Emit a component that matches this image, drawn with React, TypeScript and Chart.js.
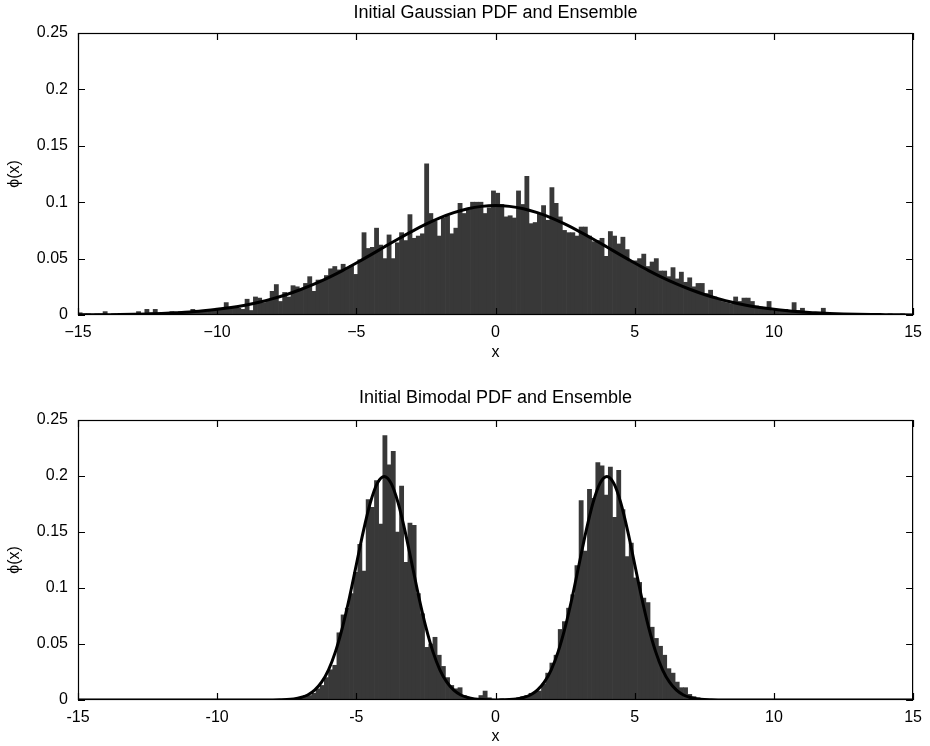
import React, { useEffect, useRef } from "react";
import { Chart, registerables } from "chart.js";

Chart.register(...registerables);

const FONT = '"Liberation Sans", Arial, Helvetica, sans-serif';

// ---------- tick labels ----------
const xTickValues = [-15, -10, -5, 0, 5, 10, 15];
const gaussXTickLabels = ["\u221215", "\u221210", "\u22125", "0", "5", "10", "15"];
const bimodalXTickLabels = ["-15", "-10", "-5", "0", "5", "10", "15"];
const yTickValues = [0, 0.05, 0.1, 0.15, 0.2, 0.25];
const yTickLabels = ["0", "0.05", "0.1", "0.15", "0.2", "0.25"];

// ---------- Gaussian ensemble histogram (bin width 0.15, first centre -14.925) ----------
const gaussHistStart = -14.925;
const gaussHistStep = 0.15;
const gaussianHist = [
  0.002, 0.001, 0.001, 0, 0.001, 0.001, 0.003, 0, 0.001, 0,
  0, 0.001, 0, 0.001, 0.003, 0.001, 0.005, 0.002, 0.005, 0.001,
  0.002, 0.001, 0.003, 0.002, 0.003, 0.002, 0.003, 0.005, 0.003, 0.004,
  0.003, 0.005, 0.004, 0.006, 0.005, 0.011, 0.006, 0.007, 0.006, 0.005,
  0.014, 0.004, 0.016, 0.015, 0.011, 0.013, 0.021, 0.027, 0.012, 0.020,
  0.016, 0.026, 0.025, 0.022, 0.028, 0.034, 0.021, 0.031, 0.031, 0.035,
  0.041, 0.043, 0.040, 0.045, 0.042, 0.044, 0.036, 0.049, 0.073, 0.059,
  0.060, 0.077, 0.062, 0.050, 0.071, 0.050, 0.064, 0.073, 0.066, 0.089,
  0.068, 0.070, 0.072, 0.134, 0.090, 0.083, 0.070, 0.086, 0.088, 0.072,
  0.077, 0.099, 0.090, 0.093, 0.100, 0.100, 0.100, 0.090, 0.095, 0.110,
  0.108, 0.098, 0.087, 0.088, 0.086, 0.110, 0.098, 0.123, 0.081, 0.082,
  0.090, 0.097, 0.084, 0.113, 0.099, 0.087, 0.075, 0.073, 0.073, 0.070,
  0.078, 0.078, 0.070, 0.065, 0.066, 0.068, 0.052, 0.074, 0.070, 0.063,
  0.069, 0.058, 0.047, 0.048, 0.050, 0.054, 0.043, 0.047, 0.050, 0.039,
  0.039, 0.034, 0.042, 0.032, 0.038, 0.029, 0.033, 0.025, 0.028, 0.028,
  0.019, 0.022, 0.016, 0.014, 0.012, 0.011, 0.010, 0.016, 0.012, 0.015,
  0.015, 0.012, 0.008, 0.007, 0.006, 0.012, 0.004, 0.005, 0.004, 0.005,
  0.003, 0.011, 0.004, 0.006, 0.002, 0.002, 0.001, 0.002, 0.006, 0.001,
  0.001, 0.001, 0, 0.001, 0, 0.001, 0, 0.001, 0, 0,
  0, 0.001, 0, 0, 0.001, 0, 0, 0.001, 0, 0,
];

// ---------- Gaussian PDF curve (samples every 0.5 from -15) ----------
const gaussCurveStart = -15;
const gaussCurveStep = 0.5;
const gaussianCurve = [
  0.0001, 0.0002, 0.0003, 0.0004, 0.0006, 0.0009, 0.0013, 0.0019, 0.0026, 0.0037,
  0.0050, 0.0066, 0.0087, 0.0113, 0.0145, 0.0182, 0.0226, 0.0276, 0.0332, 0.0394,
  0.0461, 0.0531, 0.0603, 0.0674, 0.0742, 0.0805, 0.0861, 0.0907, 0.0942, 0.0963,
  0.0970,
  0.0963, 0.0942, 0.0907, 0.0861, 0.0805, 0.0742, 0.0674, 0.0603, 0.0531, 0.0461,
  0.0394, 0.0332, 0.0276, 0.0226, 0.0182, 0.0145, 0.0113, 0.0087, 0.0066, 0.0050,
  0.0037, 0.0026, 0.0019, 0.0013, 0.0009, 0.0006, 0.0004, 0.0003, 0.0002, 0.0001,
];

// ---------- Bimodal ensemble histogram (bin width 0.15, first centre -7.425) ----------
const bimodalHistStart = -7.425;
const bimodalHistStep = 0.15;
const bimodalHist = [
  0, 0.001, 0, 0.002, 0.004, 0.004, 0.006, 0.010, 0.013, 0.020,
  0.027, 0.031, 0.060, 0.076, 0.082, 0.095, 0.114, 0.139, 0.115, 0.179,
  0.172, 0.196, 0.157, 0.236, 0.210, 0.222, 0.150, 0.191, 0.123, 0.158,
  0.156, 0.095, 0.077, 0.047, 0.050, 0.056, 0.040, 0.030, 0.020, 0.013,
  0.010, 0.011, 0.004, 0.002, 0.001, 0, 0.004, 0.008, 0.002, 0,
  0, 0.001, 0, 0.001, 0.001, 0.002, 0.003, 0.004, 0.006, 0.007,
  0.008, 0.014, 0.024, 0.033, 0.040, 0.063, 0.070, 0.082, 0.094, 0.120,
  0.178, 0.133, 0.188, 0.180, 0.212, 0.209, 0.183, 0.208, 0.163, 0.205,
  0.170, 0.128, 0.140, 0.109, 0.105, 0.091, 0.087, 0.065, 0.055, 0.048,
  0.040, 0.028, 0.024, 0.016, 0.011, 0.011, 0.005, 0.003, 0.002, 0.001,
];

// ---------- Bimodal PDF curve (samples every 0.25 from -8 to 8, plus the ends) ----------
const bimodalCurveStart = -8;
const bimodalCurveStep = 0.25;
const bimodalCurve = [
  0.0001, 0.0002, 0.0004, 0.0010, 0.0022, 0.0045, 0.0088, 0.0159, 0.0270, 0.0432,
  0.0648, 0.0913, 0.1210, 0.1506, 0.1760, 0.1934, 0.1995, 0.1934, 0.1760, 0.1506,
  0.1210, 0.0913, 0.0648, 0.0432, 0.0270, 0.0159, 0.0088, 0.0045, 0.0022, 0.0010,
  0.0004, 0.0002, 0.0001,
  0.0002, 0.0004, 0.0010, 0.0022, 0.0045, 0.0088, 0.0159, 0.0270, 0.0432, 0.0648,
  0.0913, 0.1210, 0.1506, 0.1760, 0.1934, 0.1995, 0.1934, 0.1760, 0.1506, 0.1210,
  0.0913, 0.0648, 0.0432, 0.0270, 0.0159, 0.0088, 0.0045, 0.0022, 0.0010, 0.0004,
  0.0002, 0.0001,
];
const bimodalCurveEnds = { left: -15, right: 15, value: 0 };

function toPoints(start: number, step: number, values: number[]) {
  return values.map((v, i) => ({ x: +(start + i * step).toFixed(4), y: v }));
}

// MATLAB-style boxed axes with inward ticks, and a title centred over the plot area
const framePlugin = {
  id: "matlabFrame",
  afterDatasetsDraw(chart: any, _args: any, opts: any) {
    const { ctx, chartArea: a, scales } = chart;
    const xs = scales.x;
    const ys = scales.y;
    const tl = 7;
    ctx.save();
    ctx.strokeStyle = "#000";
    ctx.lineWidth = 1.2;
    ctx.strokeRect(a.left + 0.5, a.top + 0.5, a.right - a.left - 1, a.bottom - a.top - 1);
    ctx.beginPath();
    xTickValues.forEach((v) => {
      const px = Math.round(xs.getPixelForValue(v)) + 0.5;
      ctx.moveTo(px, a.bottom);
      ctx.lineTo(px, a.bottom - tl);
      ctx.moveTo(px, a.top);
      ctx.lineTo(px, a.top + tl);
    });
    yTickValues.forEach((v) => {
      const py = Math.round(ys.getPixelForValue(v)) + 0.5;
      ctx.moveTo(a.left, py);
      ctx.lineTo(a.left + tl, py);
      ctx.moveTo(a.right, py);
      ctx.lineTo(a.right - tl, py);
    });
    ctx.stroke();
    if (opts && opts.text) {
      ctx.fillStyle = "#000";
      ctx.font = `normal 18px ${FONT}`;
      ctx.textAlign = "center";
      ctx.textBaseline = "middle";
      ctx.fillText(opts.text, (a.left + a.right) / 2, a.top - opts.offset);
    }
    ctx.restore();
  },
};

type PanelProps = {
  title: string;
  hist: { x: number; y: number }[];
  curve: { x: number; y: number }[];
  xLabels: string[];
  topSpace: number;
  titleOffset: number;
  xAxisHeight: number;
  xTitleBottom: number;
};

function Panel(p: PanelProps) {
  const ref = useRef<HTMLCanvasElement>(null);
  useEffect(() => {
    if (!ref.current) return;
    const font = { family: FONT, size: 16, weight: "normal" as const };
    const chart = new Chart(ref.current, {
      type: "bar",
      data: {
        datasets: [
          {
            type: "line" as const,
            data: p.curve,
            borderColor: "#000",
            borderWidth: 3,
            pointRadius: 0,
            fill: false,
            cubicInterpolationMode: "monotone" as const,
            order: 0,
          },
          {
            type: "bar" as const,
            data: p.hist,
            backgroundColor: "#383838",
            borderWidth: 0,
            categoryPercentage: 1,
            barPercentage: 1,
            order: 1,
          },
        ],
      } as any,
      options: {
        animation: false,
        responsive: false,
        devicePixelRatio: 1,
        layout: { padding: { left: 0, right: 15, top: p.topSpace, bottom: 0 } },
        plugins: {
          legend: { display: false },
          tooltip: { enabled: false },
          title: { display: false },
          matlabFrame: { text: p.title, offset: p.titleOffset },
        },
        scales: {
          x: {
            type: "linear",
            min: -15,
            max: 15,
            offset: false,
            grid: { display: false, drawTicks: false, offset: false },
            border: { display: false },
            ticks: {
              stepSize: 5,
              autoSkip: false,
              maxRotation: 0,
              padding: 8,
              color: "#000",
              font,
              callback: (v: any) => {
                const i = xTickValues.findIndex((t) => Math.abs(t - Number(v)) < 1e-9);
                return i >= 0 ? p.xLabels[i] : "";
              },
            },
            title: {
              display: true,
              text: "x",
              color: "#000",
              font,
              padding: { top: 0, bottom: p.xTitleBottom },
            },
            afterFit: (s: any) => {
              s.height = p.xAxisHeight;
            },
          },
          y: {
            type: "linear",
            min: 0,
            max: 0.25,
            grid: { display: false, drawTicks: false },
            border: { display: false },
            ticks: {
              stepSize: 0.05,
              padding: 10,
              color: "#000",
              font,
              callback: (v: any) => {
                const i = yTickValues.findIndex((t) => Math.abs(t - Number(v)) < 1e-9);
                return i >= 0 ? yTickLabels[i] : "";
              },
            },
            title: {
              display: true,
              text: "\u03d5(x)",
              color: "#000",
              font,
              padding: { top: 5, bottom: 0 },
            },
            afterFit: (s: any) => {
              s.width = 78;
            },
          },
        },
      } as any,
      plugins: [framePlugin],
    });
    return () => chart.destroy();
  }, []);
  return (
    <canvas
      ref={ref}
      width={930}
      height={373}
      style={{ display: "block", width: 930, height: 373 }}
    />
  );
}

export default function App() {
  const gaussHistPts = toPoints(gaussHistStart, gaussHistStep, gaussianHist);
  const gaussCurvePts = toPoints(gaussCurveStart, gaussCurveStep, gaussianCurve);
  const bimHistPts = toPoints(bimodalHistStart, bimodalHistStep, bimodalHist);
  const bimCurvePts = [
    { x: bimodalCurveEnds.left, y: bimodalCurveEnds.value },
    ...toPoints(bimodalCurveStart, bimodalCurveStep, bimodalCurve),
    { x: bimodalCurveEnds.right, y: bimodalCurveEnds.value },
  ];
  return (
    <div
      style={{
        position: "absolute",
        left: 0,
        top: 0,
        width: 930,
        height: 746,
        background: "#fff",
      }}
    >
      <Panel
        title="Initial Gaussian PDF and Ensemble"
        hist={gaussHistPts}
        curve={gaussCurvePts}
        xLabels={gaussXTickLabels}
        topSpace={33}
        titleOffset={20}
        xAxisHeight={58}
        xTitleBottom={11}
      />
      <Panel
        title="Initial Bimodal PDF and Ensemble"
        hist={bimHistPts}
        curve={bimCurvePts}
        xLabels={bimodalXTickLabels}
        topSpace={47}
        titleOffset={22}
        xAxisHeight={46}
        xTitleBottom={0}
      />
    </div>
  );
}
